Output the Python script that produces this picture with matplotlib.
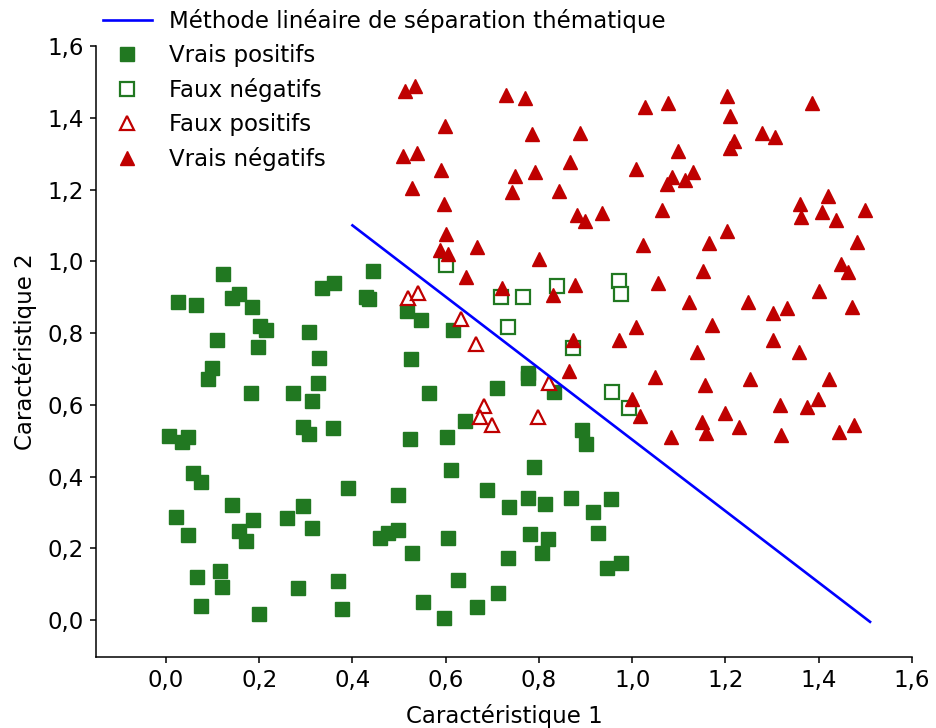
import matplotlib
matplotlib.use("Agg")
import matplotlib.pyplot as plt

# ---- data ----
vp_x = [0.122, 0.026, 0.064, 0.142, 0.157, 0.184, 0.202, 0.214, 0.109, 0.197,
        0.099, 0.090, 0.182, 0.272, 0.006, 0.047, 0.034, 0.058, 0.075, 0.142,
        0.021, 0.187, 0.260, 0.157, 0.047, 0.172, 0.116, 0.066, 0.120, 0.075,
        0.199, 0.444, 0.360, 0.335, 0.429, 0.435, 0.517, 0.547, 0.616, 0.307,
        0.328, 0.525, 0.326, 0.564, 0.313, 0.641, 0.294, 0.307, 0.358, 0.523,
        0.603, 0.611, 0.390, 0.498, 0.294, 0.313, 0.459, 0.476, 0.498, 0.605,
        0.528, 0.626, 0.369, 0.283, 0.551, 0.377, 0.596, 0.667, 0.776, 0.776,
        0.710, 0.832, 0.892, 0.901, 0.789, 0.688, 0.736, 0.776, 0.813, 0.869,
        0.916, 0.954, 0.781, 0.819, 0.806, 0.927, 0.946, 0.976, 0.734, 0.712]
vp_y = [0.964, 0.886, 0.878, 0.898, 0.909, 0.872, 0.820, 0.808, 0.781, 0.761,
        0.702, 0.672, 0.633, 0.633, 0.513, 0.510, 0.496, 0.410, 0.385, 0.321,
        0.287, 0.279, 0.284, 0.248, 0.237, 0.220, 0.137, 0.120, 0.092, 0.039,
        0.017, 0.973, 0.939, 0.925, 0.900, 0.895, 0.861, 0.836, 0.808, 0.803,
        0.730, 0.728, 0.661, 0.633, 0.610, 0.555, 0.538, 0.518, 0.535, 0.505,
        0.510, 0.418, 0.368, 0.348, 0.318, 0.256, 0.229, 0.243, 0.251, 0.229,
        0.187, 0.111, 0.109, 0.089, 0.050, 0.031, 0.006, 0.036, 0.689, 0.675,
        0.647, 0.636, 0.530, 0.491, 0.426, 0.362, 0.315, 0.340, 0.323, 0.340,
        0.301, 0.337, 0.240, 0.226, 0.187, 0.243, 0.145, 0.159, 0.173, 0.075]

fn_x = [0.601, 0.719, 0.766, 0.734, 0.839, 0.972, 0.976, 0.873, 0.957, 0.993]
fn_y = [0.990, 0.900, 0.900, 0.817, 0.931, 0.945, 0.909, 0.758, 0.636, 0.591]

fp_x = [0.519, 0.540, 0.633, 0.665, 0.682, 0.673, 0.699, 0.798, 0.821]
fp_y = [0.898, 0.912, 0.839, 0.769, 0.597, 0.566, 0.544, 0.566, 0.661]

vn_x = [0.513, 0.534, 0.729, 0.770, 0.598, 0.785, 0.888, 0.508, 0.538, 0.590,
        0.749, 0.791, 0.742, 0.866, 0.528, 0.843, 0.596, 0.882, 0.601, 0.588,
        0.605, 0.667, 0.800,
        1.203, 1.077, 1.027, 1.210, 1.278, 1.218, 1.210, 1.098, 1.008, 1.085,
        1.130, 1.075, 1.113, 0.899, 0.935, 1.064, 1.203, 1.023, 1.165,
        1.386, 1.306, 1.420, 1.360, 1.362, 1.407, 1.437, 1.499, 1.482,
        1.152, 0.877, 1.055, 1.122, 1.248, 1.008, 1.171, 0.873, 0.972, 1.139,
        0.864, 1.049, 1.156, 1.253, 0.999, 1.017, 1.199, 1.150, 1.158, 1.229,
        1.083,
        1.448, 1.463, 1.401, 1.332, 1.302, 1.471, 1.302, 1.358, 1.422, 1.317,
        1.398, 1.375, 1.319, 1.443, 1.476,
        0.643, 0.721, 0.830]
vn_y = [1.475, 1.489, 1.463, 1.455, 1.377, 1.355, 1.358, 1.293, 1.302, 1.254,
        1.238, 1.249, 1.193, 1.277, 1.204, 1.196, 1.160, 1.129, 1.076, 1.031,
        1.020, 1.040, 1.006,
        1.461, 1.441, 1.430, 1.405, 1.358, 1.335, 1.316, 1.307, 1.257, 1.235,
        1.249, 1.215, 1.227, 1.112, 1.135, 1.143, 1.084, 1.045, 1.051,
        1.441, 1.346, 1.182, 1.160, 1.123, 1.137, 1.115, 1.143, 1.054,
        0.973, 0.934, 0.939, 0.886, 0.886, 0.817, 0.822, 0.781, 0.781, 0.747,
        0.694, 0.677, 0.655, 0.672, 0.616, 0.569, 0.577, 0.552, 0.521, 0.538,
        0.510,
        0.992, 0.970, 0.917, 0.870, 0.856, 0.872, 0.781, 0.747, 0.672, 0.599,
        0.616, 0.594, 0.516, 0.524, 0.544,
        0.956, 0.925, 0.906]

sep_x = [0.4, 1.51]
sep_y = [1.1, -0.005]

labels = ["Méthode linéaire de séparation thématique", "Vrais positifs",
          "Faux négatifs", "Faux positifs", "Vrais négatifs"]
xticks = [0.0, 0.2, 0.4, 0.6, 0.8, 1.0, 1.2, 1.4, 1.6]
xtick_labels = ["0,0", "0,2", "0,4", "0,6", "0,8", "1,0", "1,2", "1,4", "1,6"]
yticks = [0.0, 0.2, 0.4, 0.6, 0.8, 1.0, 1.2, 1.4, 1.6]
ytick_labels = ["0,0", "0,2", "0,4", "0,6", "0,8", "1,0", "1,2", "1,4", "1,6"]
xlabel = "Caractéristique 1"
ylabel = "Caractéristique 2"

GREEN = "#217821"
RED = "#bf0000"
FS = 16.5

plt.rcParams['font.family'] = ['DejaVu Sans']
fig = plt.figure(figsize=(9.36, 7.28), dpi=100)
ax = fig.add_axes([96 / 936, 1 - 657 / 728, (912 - 96) / 936, (657 - 46) / 728])

ax.plot(sep_x, sep_y, color="#0000ff", lw=1.9, zorder=4, label=labels[0])
ax.plot(vp_x, vp_y, ls="none", marker="s", ms=10.5, mfc=GREEN, mec=GREEN, mew=1.0,
        label=labels[1], zorder=2)
ax.plot(fn_x, fn_y, ls="none", marker="s", ms=10.0, mfc="white", mec=GREEN, mew=1.6,
        label=labels[2], zorder=2.1)
ax.plot(fp_x, fp_y, ls="none", marker="^", ms=10.0, mfc="white", mec=RED, mew=1.6,
        label=labels[3], zorder=2.2)
ax.plot(vn_x, vn_y, ls="none", marker="^", ms=10.5, mfc=RED, mec=RED, mew=1.0,
        label=labels[4], zorder=2.3)

ax.set_xlim(-0.15, 1.6)
ax.set_ylim(-0.103, 1.6)
ax.set_xticks(xticks)
ax.set_xticklabels(xtick_labels)
ax.set_yticks(yticks)
ax.set_yticklabels(ytick_labels)
ax.tick_params(labelsize=FS, width=1.1, length=4.5, direction="out", pad=4.5)
for s in ("top", "right"):
    ax.spines[s].set_visible(False)
for s in ("left", "bottom"):
    ax.spines[s].set_linewidth(1.1)
ax.set_xlabel(xlabel, fontsize=FS, labelpad=8)
ax.set_ylabel(ylabel, fontsize=FS, labelpad=7.5)

ax.legend(loc="upper left", bbox_to_anchor=(96 / 936, 0.997), bbox_transform=fig.transFigure,
          frameon=False, fontsize=FS, handlelength=2.14, handletextpad=0.75,
          labelspacing=0.48, borderaxespad=0.0, borderpad=0.3)

fig.savefig("out.png", dpi=100)
